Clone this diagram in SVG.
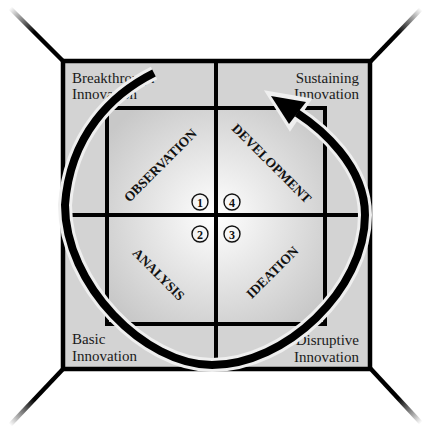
<svg xmlns="http://www.w3.org/2000/svg" width="423" height="429" viewBox="0 0 423 429">
  <style>
    .corner { text-anchor: start; font-family: "Liberation Serif", "Times New Roman", serif; font-size: 15px; fill: #1a1a1a; }
    .cornerR { text-anchor: end; font-family: "Liberation Serif", "Times New Roman", serif; font-size: 15px; fill: #1a1a1a; }
    .phase { text-anchor: middle; font-family: "Liberation Serif", "Times New Roman", serif; font-size: 13.5px; font-weight: bold; fill: #111; }
    .num { text-anchor: middle; font-family: "Liberation Serif", "Times New Roman", serif; font-size: 12px; font-weight: bold; fill: #111; }
    .ring { fill: none; stroke: #111; stroke-width: 1.4; }
    .line { stroke: #000; stroke-width: 4; fill: none; }
    .diag { stroke-width: 4.5; }
  </style>
  <defs>
    <radialGradient id="innerFill" cx="0.5" cy="0.5" r="0.62">
      <stop offset="0" stop-color="#ffffff"/>
      <stop offset="1" stop-color="#c8c8c8"/>
    </radialGradient>
    <linearGradient id="fadeTL" x1="1" y1="1" x2="0" y2="0">
      <stop offset="0" stop-color="#000"/>
      <stop offset="0.55" stop-color="#000"/>
      <stop offset="1" stop-color="#fff"/>
    </linearGradient>
    <linearGradient id="fadeTR" x1="0" y1="1" x2="1" y2="0">
      <stop offset="0" stop-color="#000"/>
      <stop offset="0.55" stop-color="#000"/>
      <stop offset="1" stop-color="#fff"/>
    </linearGradient>
    <linearGradient id="fadeBL" x1="1" y1="0" x2="0" y2="1">
      <stop offset="0" stop-color="#000"/>
      <stop offset="0.55" stop-color="#000"/>
      <stop offset="1" stop-color="#fff"/>
    </linearGradient>
    <linearGradient id="fadeBR" x1="0" y1="0" x2="1" y2="1">
      <stop offset="0" stop-color="#000"/>
      <stop offset="0.55" stop-color="#000"/>
      <stop offset="1" stop-color="#fff"/>
    </linearGradient>
  </defs>

  <!-- corner diagonals -->
  <line class="diag" x1="64" y1="62" x2="10" y2="8" stroke="url(#fadeTL)"/>
  <line class="diag" x1="370" y1="62" x2="421" y2="9" stroke="url(#fadeTR)"/>
  <line class="diag" x1="64" y1="368" x2="10" y2="425" stroke="url(#fadeBL)"/>
  <line class="diag" x1="370" y1="368" x2="421" y2="423" stroke="url(#fadeBR)"/>

  <!-- frame -->
  <g id="frame">
    <rect x="63" y="61" width="307" height="308" fill="#d3d3d3" stroke="#000" stroke-width="4.5"/>
    <rect x="107" y="108" width="218" height="216" style="fill:url(#innerFill)" stroke="#000" stroke-width="4"/>
    <line class="line" x1="216" y1="61" x2="216" y2="369"/>
    <line class="line" x1="63" y1="215" x2="370" y2="215"/>
  </g>

  <g id="breakthrough">
    <text class="corner" x="72" y="83">Breakthrough</text>
    <text class="corner" x="72" y="99">Innovation</text>
  </g>
  <g id="sustaining">
    <text class="cornerR" x="359" y="83">Sustaining</text>
    <text class="cornerR" x="359" y="99">Innovation</text>
  </g>
  <g id="basic">
    <text class="corner" x="72" y="344">Basic</text>
    <text class="corner" x="72" y="361">Innovation</text>
  </g>
  <g id="disruptive">
    <text class="cornerR" x="359" y="345">Disruptive</text>
    <text class="cornerR" x="359" y="362">Innovation</text>
  </g>

  <g id="observation" transform="translate(160,165) rotate(-45)">
    <text class="phase" x="0" y="5">OBSERVATION</text>
  </g>
  <g id="development" transform="translate(272,163) rotate(45)">
    <text class="phase" x="0" y="5">DEVELOPMENT</text>
  </g>
  <g id="analysis" transform="translate(159,274) rotate(45)">
    <text class="phase" x="0" y="5">ANALYSIS</text>
  </g>
  <g id="ideation" transform="translate(272,272) rotate(-45)">
    <text class="phase" x="0" y="5">IDEATION</text>
  </g>

  <g id="step1"><circle class="ring" cx="200" cy="202" r="8"/><text class="num" x="200" y="206.5">1</text></g>
  <g id="step4"><circle class="ring" cx="232" cy="202" r="8"/><text class="num" x="232" y="206.5">4</text></g>
  <g id="step2"><circle class="ring" cx="200" cy="234" r="8"/><text class="num" x="200" y="238.5">2</text></g>
  <g id="step3"><circle class="ring" cx="232" cy="234" r="8"/><text class="num" x="232" y="238.5">3</text></g>

  <g id="connectors">
    <path d="M154,73 C112,94 70,135 65,205 C65,285 145,365 212,365 C285,365 365,290 365,215 C365,165 320,128 297,113"
          fill="none" stroke="#efefef" stroke-width="14"/>
    <polygon points="268,93 290,128 309,100" fill="#efefef" stroke="#efefef" stroke-width="4" stroke-linejoin="miter"/>
    <path d="M154,73 C112,94 70,135 65,205 C65,285 145,365 212,365 C285,365 365,290 365,215 C365,165 320,128 297,113"
          fill="none" stroke="#000" stroke-width="8"/>
    <polygon points="271,96 289,124 306,102" fill="#000"/>
  </g>
</svg>
